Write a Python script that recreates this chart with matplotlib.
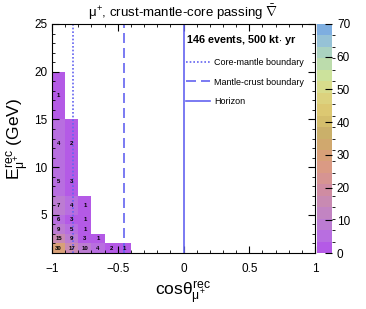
import numpy as np
import matplotlib
matplotlib.use("Agg")
import matplotlib.pyplot as plt
from matplotlib.colors import ListedColormap, BoundaryNorm

plt.rcParams['font.family'] = ['Liberation Sans', 'DejaVu Sans']
plt.rcParams['mathtext.fontset'] = 'custom'
plt.rcParams['mathtext.rm'] = 'Liberation Sans'
plt.rcParams['mathtext.it'] = 'Liberation Sans'
plt.rcParams['mathtext.bf'] = 'Liberation Sans:bold'

# %% data
cos_edges = np.round(np.arange(-1.0, 1.01, 0.1), 2)
e_edges = [1, 2, 3, 4, 5, 7, 10, 15, 20, 25]

# counts per cos bin (first six bins), from lowest energy bin upward
col_m10 = [30, 15, 9, 6, 7, 5, 4, 1]
col_m09 = [17, 9, 5, 3, 4, 3, 2]
col_m08 = [10, 3, 1, 1, 1]
col_m07 = [4, 1]
col_m06 = [2]
col_m05 = [1]

core_mantle = -0.84
mantle_crust = -0.45
horizon = 0.0

palette = ['#b45ae6', '#b86ee0', '#bc7cd2', '#c284c2', '#c88ab2', '#cf8ca2',
           '#d69492', '#da9a84', '#d8a078', '#d0a86e', '#cab06a', '#d4be6c',
           '#dcc872', '#dcd27e', '#d8dc8c', '#cce29c', '#bcdcac', '#aad2c0',
           '#96c2d6', '#7eaee0']

# %% fill the 2D histogram
counts = np.zeros((len(e_edges) - 1, len(cos_edges) - 1))
for i, col in enumerate([col_m10, col_m09, col_m08, col_m07, col_m06, col_m05]):
    counts[:len(col), i] = col
masked = np.ma.masked_where(counts == 0, counts)

cmap = ListedColormap(palette)
norm = BoundaryNorm(np.linspace(0, 70, len(palette) + 1), cmap.N)

# %% plot
fig = plt.figure(figsize=(3.66, 3.09), dpi=100)
ax = fig.add_axes([52/366, 1 - 253/309, 263/366, 229/309])
mesh = ax.pcolormesh(cos_edges, e_edges, masked, cmap=cmap, norm=norm)

xc = 0.5 * (cos_edges[:-1] + cos_edges[1:])
yc = 0.5 * (np.array(e_edges[:-1]) + np.array(e_edges[1:]))
for j in range(counts.shape[0]):
    for i in range(counts.shape[1]):
        if counts[j, i] > 0:
            ax.text(xc[i], yc[j], f"{counts[j, i]:.0f}", ha='center', va='center',
                    fontsize=4.3, fontweight='bold', color='black')

lc = '#6464f0'
ax.axvline(core_mantle, color=lc, ls=(0, (1, 1.2)), lw=1.2, label="Core-mantle boundary")
ax.axvline(mantle_crust, color=lc, ls=(0, (6, 3)), lw=1.2, label="Mantle-crust boundary")
ax.axvline(horizon, color=lc, ls='-', lw=1.2, label="Horizon")

ax.set_xlim(-1, 1)
ax.set_ylim(1, 25)
ax.set_xticks([-1, -0.5, 0, 0.5, 1])
ax.set_xticklabels(['\u22121', '\u22120.5', '0', '0.5', '1'])
ax.set_xticks(np.arange(-1, 1.01, 0.1), minor=True)
ax.set_yticks([5, 10, 15, 20, 25])
ax.set_yticks(np.arange(1, 26, 1), minor=True)
ax.tick_params(direction='in', top=True, right=True, which='both', labelsize=8.5)
ax.tick_params(which='major', length=5)
ax.tick_params(which='minor', length=2.5)
ax.tick_params(axis='x', pad=7)

ax.set_xlabel(r"cos$\theta^{rec}_{\mu^{+}}$", fontsize=12.5, labelpad=4)
ax.set_ylabel(r"$E^{rec}_{\mu^{+}}$ (GeV)", fontsize=12.5, labelpad=2)
fig.text(183/366, 1 - 12/309, r"$\mu^{+}$, crust-mantle-core passing $\bar{\nabla}$",
         ha='center', va='center', fontsize=9.5)

leg = ax.legend(loc='upper left', bbox_to_anchor=(0.49, 0.985), frameon=False,
                fontsize=6.5, handlelength=2.6, handletextpad=0.5, labelspacing=1.2,
                borderaxespad=0.2,
                title="146 events, 500 kt$\cdot$ yr", title_fontproperties={'weight': 'bold', 'size': 7.8})
leg._legend_box.align = 'left'

cax = fig.add_axes([317/366, 1 - 253/309, 15/366, 229/309])
cb = fig.colorbar(mesh, cax=cax, ticks=np.arange(0, 71, 10))
cb.outline.set_visible(False)
cax.tick_params(direction='in', length=5, labelsize=8.5)

fig.savefig("out.png", dpi=100)
